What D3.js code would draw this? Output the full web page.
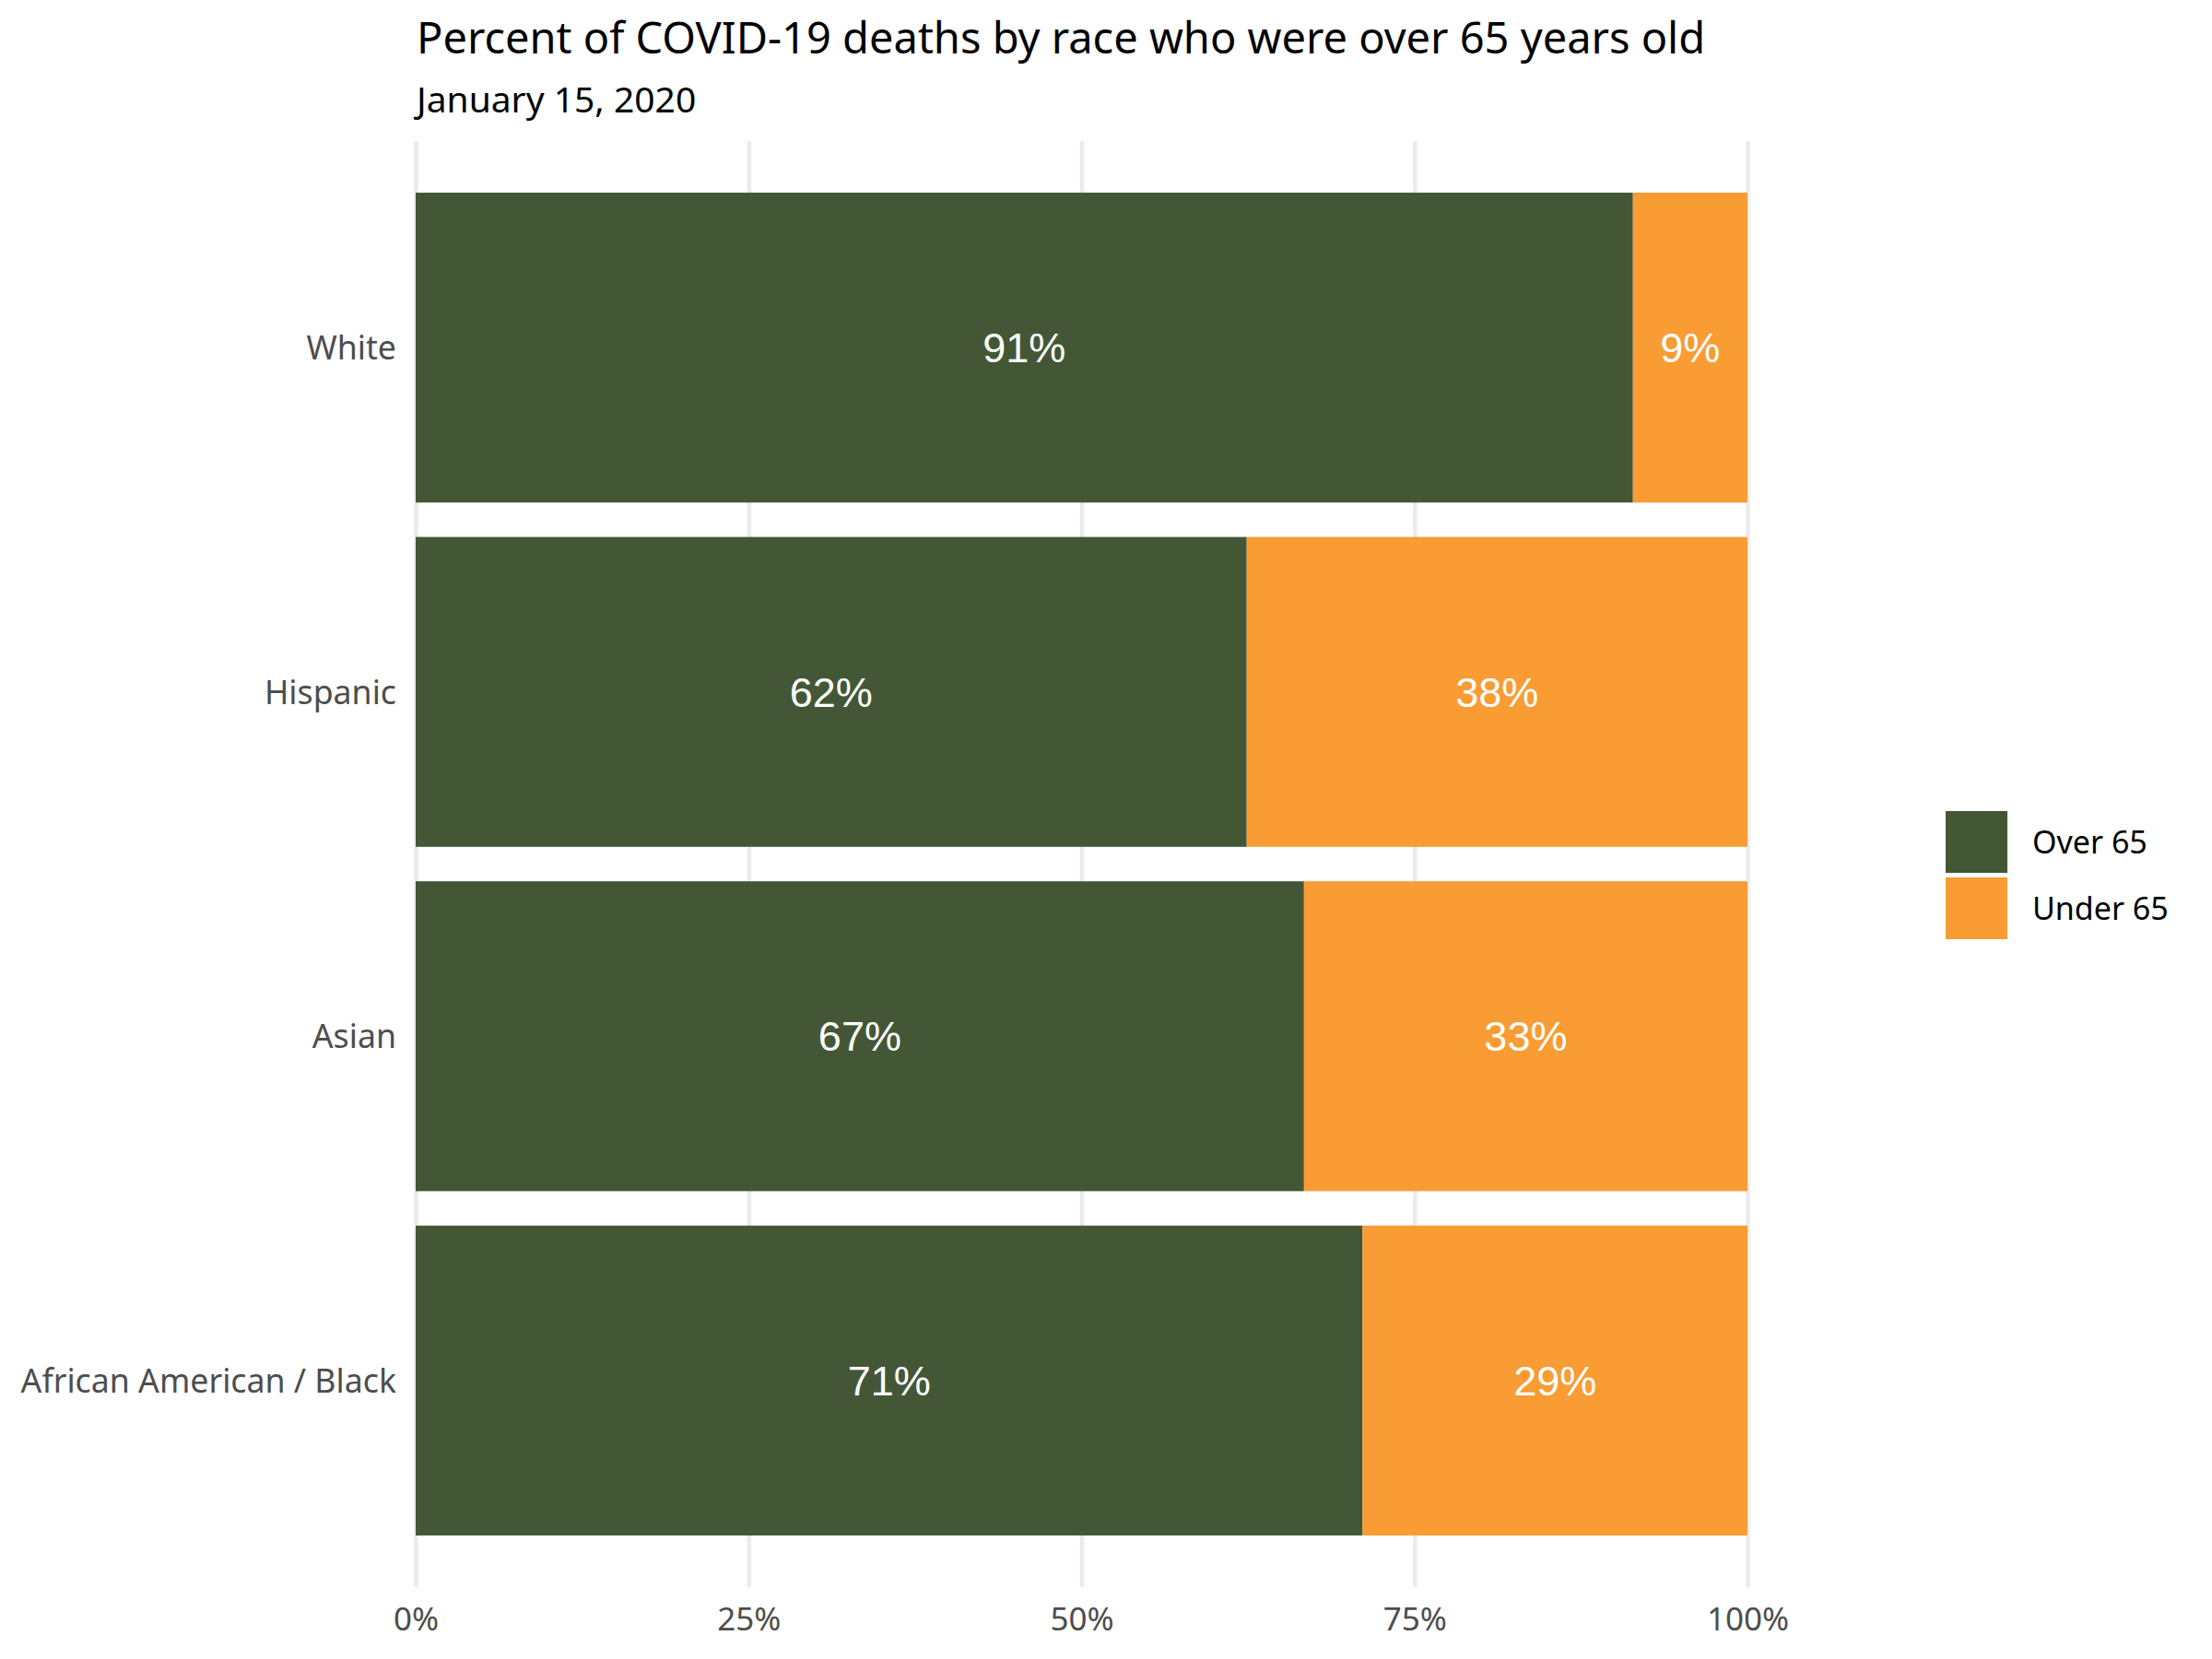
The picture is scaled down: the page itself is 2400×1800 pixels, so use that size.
<!DOCTYPE html>
<html>
<head>
<meta charset="utf-8">
<script src="https://cdn.jsdelivr.net/npm/d3@7"></script>
<style>
  body { margin: 0; background: #fff; }
  text { font-family: "Noto Sans", "Open Sans", sans-serif; }
</style>
</head>
<body>
<script>
"use strict";

/////// data
var races = ["White", "Hispanic", "Asian", "African American / Black"];
var over65 = [0.914, 0.624, 0.667, 0.711];
var under65 = [0.086, 0.376, 0.333, 0.289];
var groups = ["Over 65", "Under 65"];
var groupColours = ["#435736", "#f89c33"];
var xTicks = [0, 0.25, 0.5, 0.75, 1];
var title = "Percent of COVID-19 deaths by race who were over 65 years old";
var subtitle = "January 15, 2020";

var width = 2400, height = 1800;
// plot panel  (window.top is read-only, so no "top" here)
var pLeft = 451, pRight = 1896, pTop = 153, pBottom = 1722;

var svg = d3.select("body").append("svg")
    .attr("width", width)
    .attr("height", height);

var rows = races.map((r, i) => ({ race: r, "Over 65": over65[i], "Under 65": under65[i] }));
var series = d3.stack().keys(groups)(rows);

var x = d3.scaleLinear().domain([0, 1]).range([pLeft, pRight]);
var y = d3.scaleBand().domain(races).range([pTop, pBottom])
    .paddingInner(0.1).paddingOuter(0.15);
var colour = d3.scaleOrdinal().domain(groups).range(groupColours);

///gridlines + x axis
var xaxis = svg.append("g")
    .attr("transform", "translate(0," + pBottom + ")")
    .call(d3.axisBottom(x).tickValues(xTicks).tickSize(-(pBottom - pTop)).tickFormat(d3.format(".0%")));
xaxis.select(".domain").remove();
xaxis.selectAll("line").attr("stroke", "#ebebeb").attr("stroke-width", 4.5);
xaxis.selectAll("text")
    .attr("y", 47).attr("dy", 0)
    .attr("fill", "#4d4d4d")
    .style("font-size", "35px")
    .style("font-family", "'Noto Sans', sans-serif");

///y axis
var yaxis = svg.append("g")
    .attr("transform", "translate(" + pLeft + ",0)")
    .call(d3.axisLeft(y).tickSize(0).tickPadding(21));
yaxis.select(".domain").remove();
yaxis.selectAll("text")
    .attr("dy", "0.36em")
    .attr("fill", "#4d4d4d")
    .style("font-size", "35.7px")
    .style("font-family", "'Noto Sans', sans-serif");

///bars
var layer = svg.append("g").selectAll("g")
    .data(series)
  .enter().append("g")
    .attr("fill", d => colour(d.key));

layer.selectAll("rect")
    .data(d => d)
  .enter().append("rect")
    .attr("x", d => x(d[0]))
    .attr("y", d => y(d.data.race))
    .attr("width", d => x(d[1]) - x(d[0]))
    .attr("height", y.bandwidth());

///labels in the bars
layer.selectAll("text")
    .data(d => d)
  .enter().append("text")
    .attr("x", d => (x(d[0]) + x(d[1])) / 2)
    .attr("y", d => y(d.data.race) + y.bandwidth() / 2)
    .attr("dy", "0.36em")
    .attr("text-anchor", "middle")
    .attr("fill", "#fff")
    .style("font-family", "'Liberation Sans', Arial, sans-serif")
    .style("font-size", "45px")
    .text(d => d3.format(".0%")(d[1] - d[0]));

///title
svg.append("text")
    .attr("x", 452).attr("y", 58)
    .attr("fill", "#000")
    .style("font-size", "47px")
    .text(title);
svg.append("text")
    .attr("x", 452).attr("y", 122)
    .attr("fill", "#000")
    .style("font-size", "39px")
    .text(subtitle);

///legend
var key = svg.append("g").selectAll("g")
    .data(groups)
  .enter().append("g")
    .attr("transform", (d, i) => "translate(2111," + (880 + i * 72) + ")");
key.append("rect")
    .attr("width", 67).attr("height", 67)
    .attr("fill", d => colour(d));
key.append("text")
    .attr("x", 94).attr("y", 33.5)
    .attr("dy", "0.36em")
    .attr("fill", "#000")
    .style("font-size", "34px")
    .text(d => d);
</script>
</body>
</html>
